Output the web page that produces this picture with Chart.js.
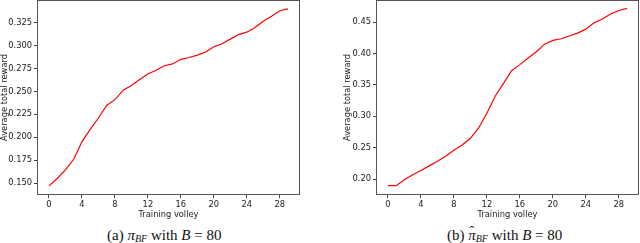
<!DOCTYPE html>
<html>
<head>
<meta charset="utf-8">
<script src="https://cdn.jsdelivr.net/npm/chart.js@4"></script>
<style>
  body { margin: 0; background: #fff; }
  .wrap { position: relative; width: 640px; height: 243px; overflow: hidden; }
  .box { position: absolute; top: 0; width: 320px; height: 222px; }
  .cap { position: absolute; top: 227px; font-family: "Liberation Serif", "Times New Roman", serif; font-size: 15px; color: #111; white-space: nowrap; }
  .cap sub { font-size: 10px; vertical-align: -2px; }
  .hat { position: relative; display: inline-block; }
  .hat b { position: absolute; left: 1px; top: -4px; font-weight: normal; font-style: normal; }
</style>
</head>
<body>
<div class="wrap">
  <div class="box" style="left:0"><canvas id="chartA"></canvas></div>
  <div class="box" style="left:320px"><canvas id="chartB"></canvas></div>
  <div class="cap" style="left:107px">(a) <i>π</i><sub><i>BF</i></sub> with <i>B</i> = 80</div>
  <div class="cap" style="left:447px">(b) <i class="hat">π<b>ˆ</b></i><sub><i>BF</i></sub> with <i>B</i> = 80</div>
</div>
<script>
const volleys = [0,1,2,3,4,5,6,7,8,9,10,11,12,13,14,15,16,17,18,19,20,21,22,23,24,25,26,27,28,29];
const rewardA = [0.147,0.155,0.1645,0.176,0.195,0.2086,0.221,0.2347,0.241,0.2513,0.2564,0.263,0.269,0.273,0.278,0.280,
                 0.285,0.287,0.2896,0.293,0.2987,0.302,0.307,0.312,0.3146,0.3197,0.3266,0.332,0.338,0.340];
const rewardB = [0.1894,0.1894,0.199,0.207,0.2137,0.221,0.2285,0.2365,0.246,0.2544,0.265,0.2814,0.305,0.332,0.352,0.3728,
                 0.3824,0.393,0.403,0.415,0.421,0.4236,0.428,0.4326,0.439,0.449,0.455,0.463,0.4686,0.472];
const xTicks = [0,4,8,12,16,20,24,28];
const yTicksA = [0.150,0.175,0.200,0.225,0.250,0.275,0.300,0.325];
const yTicksB = [0.20,0.25,0.30,0.35,0.40,0.45];

const frame = {
    id: 'frame',
    afterDraw(chart) {
        const a = chart.chartArea;
        const ctx = chart.ctx;
        ctx.save();
        ctx.strokeStyle = '#555';
        ctx.lineWidth = 1;
        ctx.strokeRect(a.left + 0.5, a.top + 0.5, a.right - a.left - 1, a.bottom - a.top - 1);
        ctx.restore();
    }
};

function makeChart(id, values, yTicks, yMin, yMax, decimals, yWidth, titlePad, padRight) {
    const font = { family: 'DejaVu Sans', size: 8.3 };
    return new Chart(document.getElementById(id), {
        type: 'line',
        data: {
            labels: volleys,
            datasets: [{
                data: values,
                borderColor: '#ff0000',
                borderWidth: 1.2,
                pointRadius: 0,
                tension: 0,
                fill: false,
            }],
        },
        options: {
            responsive: false,
            animation: false,
            devicePixelRatio: 1,
            layout: { padding: { top: 0, right: padRight, left: 0, bottom: 0 } },
            plugins: { legend: { display: false }, tooltip: { enabled: false } },
            parsing: false,
            scales: {
                x: {
                    type: 'linear',
                    min: -1.45,
                    max: 30.45,
                    afterBuildTicks: s => { s.ticks = xTicks.map(v => ({ value: v })); },
                    afterFit: s => { s.height = 27; s.paddingLeft = 0; s.paddingRight = 0; },
                    grid: { drawOnChartArea: false, tickLength: 3, tickColor: '#444' },
                    border: { display: false },
                    ticks: { font: font, color: '#222', padding: 2, maxRotation: 0 },
                    title: { display: true, text: 'Training volley', font: font, color: '#222', padding: { top: 0, bottom: 2 } },
                },
                y: {
                    min: yMin,
                    max: yMax,
                    afterBuildTicks: s => { s.ticks = yTicks.map(v => ({ value: v })); },
                    afterFit: s => { s.width = yWidth; s.paddingTop = 0; s.paddingBottom = 0; },
                    grid: { drawOnChartArea: false, tickLength: 3, tickColor: '#444' },
                    border: { display: false },
                    ticks: { font: font, color: '#222', padding: 2, callback: v => v.toFixed(decimals) },
                    title: { display: true, text: 'Average total reward', font: font, color: '#222', padding: { top: titlePad, bottom: 0 } },
                },
            },
        },
        plugins: [frame],
    });
}

function toPoints(values) {
    return values.map((v, i) => ({ x: volleys[i], y: v }));
}

const canvasA = document.getElementById('chartA');
canvasA.width = 320; canvasA.height = 222;
const canvasB = document.getElementById('chartB');
canvasB.width = 320; canvasB.height = 222;

makeChart('chartA', toPoints(rewardA), yTicksA, 0.137, 0.3497, 3, 37, 0, 20);
makeChart('chartB', toPoints(rewardB), yTicksB, 0.1746, 0.4854, 2, 56, 23, 1);
</script>
</body>
</html>
